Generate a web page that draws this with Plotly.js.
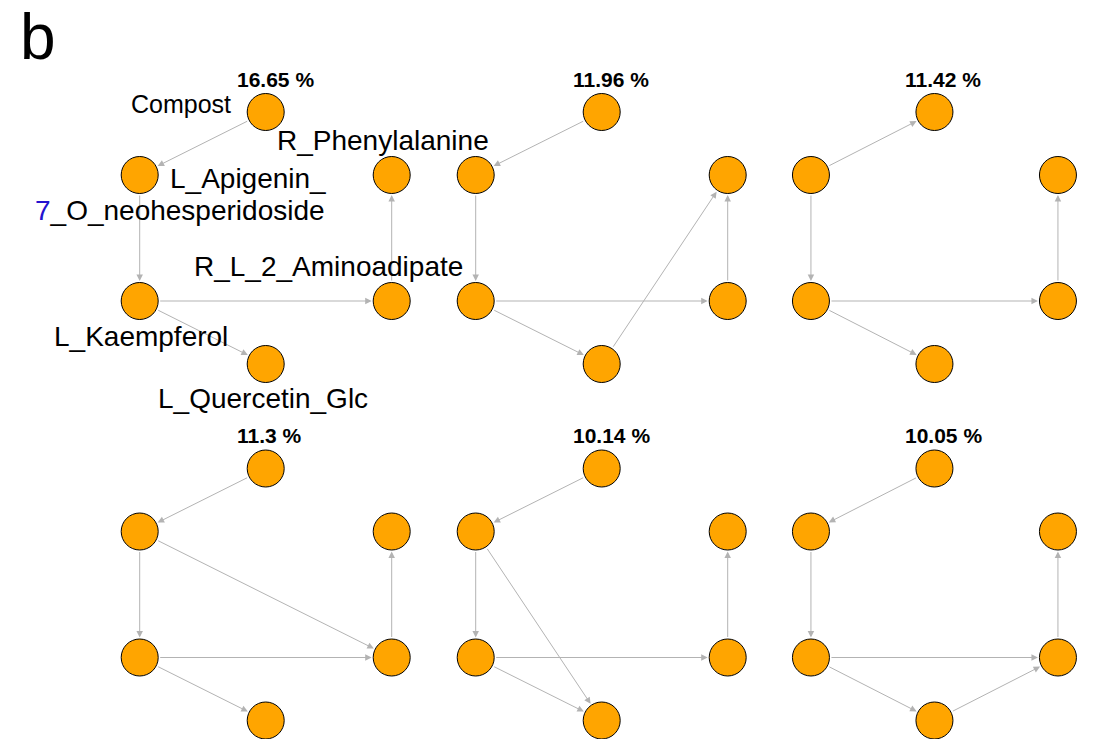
<!DOCTYPE html>
<html>
<head>
<meta charset="utf-8">
<script src="https://cdn.plot.ly/plotly-3.0.1.min.js"></script>
<style>html,body{margin:0;padding:0;background:#fff;}#chart{width:1095px;height:739px;}</style>
</head>
<body>
<div id="chart"></div>
<script>
// ---------------- DATA ----------------
const nodeNames = ['Compost', 'L_Apigenin_7_O_neohesperidoside', 'R_Phenylalanine',
                   'L_Kaempferol', 'R_L_2_Aminoadipate', 'L_Quercetin_Glc'];
// layout grid coordinates of each node (column, level) as used by the graph layout
const nodeCol   = [1, 0, 2, 0, 2, 1];
const nodeLevel = [0, 1, 1, 3, 3, 4];
// percentage of each network structure
const percentages = [16.65, 11.96, 11.42, 11.3, 10.14, 10.05];
// directed edges [from, to] by node index
const edges1 = [[0,1],[1,3],[3,4],[3,5],[4,2]];
const edges2 = [[0,1],[1,3],[3,4],[3,5],[4,2],[5,2]];
const edges3 = [[1,0],[1,3],[3,4],[3,5],[4,2]];
const edges4 = [[0,1],[1,3],[1,4],[3,4],[3,5],[4,2]];
const edges5 = [[0,1],[1,3],[1,5],[3,4],[3,5],[4,2]];
const edges6 = [[0,1],[1,3],[3,4],[3,5],[5,4],[4,2]];
const panelEdges = [edges1, edges2, edges3, edges4, edges5, edges6];

// ---------------- STYLE ----------------
const W = 1095, H = 739;
const FONT = 'Liberation Sans, Arial, Helvetica, sans-serif';
const unitX = 126, unitY = 63;          // px per layout unit
const col0X = 139.7, lev0Y = 112;       // px of first panel origin
const panelDX = 336, panelDY = 356.5;
const xr = [-0.3, 2.3], yr = [4.25, -0.75];
const edgeColor = '#b3b3b3';
const nodeFill = '#FFA500';
// label offsets (px) for first panel: [xanchor, xshift, yshift, fontsize]
const labelStyle = {
  0: ['right', -33, 8, 25],
  2: ['center', -9, 35, 28],
  3: ['center', 1, -35, 28],
  4: ['center', -63, 35, 28],
  5: ['center', -3, -34, 28]
};

const traces = [];
const annotations = [];
const layout = {
  width: W, height: H,
  margin: {l: 0, r: 0, t: 0, b: 0},
  paper_bgcolor: '#fff', plot_bgcolor: 'rgba(0,0,0,0)',
  showlegend: false,
  font: {family: FONT, color: '#000'},
  hovermode: false
};

for (let p = 0; p < 6; p++) {
  const r = Math.floor(p / 3), c = p % 3;
  const sfx = p === 0 ? '' : String(p + 1);
  const xa = 'x' + sfx, ya = 'y' + sfx;
  const ox = col0X + c * panelDX, oy = lev0Y + r * panelDY;
  const left = ox + xr[0] * unitX, right = ox + xr[1] * unitX;
  const top = oy + yr[1] * unitY, bottom = oy + yr[0] * unitY;
  layout['xaxis' + sfx] = {domain: [left / W, right / W], range: xr, visible: false, fixedrange: true};
  layout['yaxis' + sfx] = {domain: [Math.max(0, 1 - bottom / H), 1 - top / H], range: yr,
                           visible: false, fixedrange: true, anchor: xa};
  layout['xaxis' + sfx].anchor = ya;

  // edges
  panelEdges[p].forEach(([a, b]) => {
    annotations.push({
      xref: xa, yref: ya, axref: xa, ayref: ya,
      x: nodeCol[b], y: nodeLevel[b], ax: nodeCol[a], ay: nodeLevel[a],
      text: '', showarrow: true, arrowhead: 2, arrowsize: 1.3, arrowwidth: 1,
      arrowcolor: edgeColor, standoff: 20, startstandoff: 19
    });
  });

  // nodes
  traces.push({
    type: 'scatter', mode: 'markers', xaxis: xa, yaxis: ya,
    x: nodeCol, y: nodeLevel, text: nodeNames, hoverinfo: 'skip', cliponaxis: false,
    marker: {size: 37, color: nodeFill, line: {color: '#000', width: 1}}
  });

  // percentage label
  annotations.push({
    xref: xa, yref: ya, x: nodeCol[0], y: nodeLevel[0],
    text: '<b>' + percentages[p] + ' %</b>', showarrow: false,
    xanchor: 'left', yanchor: 'middle', xshift: -31, yshift: 33,
    font: {size: 21, family: FONT, color: '#000'}
  });

  // node labels on first panel only
  if (p === 0) {
    nodeNames.forEach((name, i) => {
      if (i === 1) {
        const k = name.indexOf('7');
        const l1 = name.slice(0, k);
        const l2 = '<span style="color:#2412cf">' + name.charAt(k) + '</span>' + name.slice(k + 1);
        annotations.push({xref: xa, yref: ya, x: nodeCol[i], y: nodeLevel[i], text: l1,
          showarrow: false, xanchor: 'right', yanchor: 'middle', xshift: 188, yshift: -3,
          font: {size: 28, family: FONT, color: '#000'}});
        annotations.push({xref: xa, yref: ya, x: nodeCol[i], y: nodeLevel[i], text: l2,
          showarrow: false, xanchor: 'right', yanchor: 'middle', xshift: 187, yshift: -35,
          font: {size: 28, family: FONT, color: '#000'}});
      } else {
        const s = labelStyle[i];
        annotations.push({xref: xa, yref: ya, x: nodeCol[i], y: nodeLevel[i], text: name,
          showarrow: false, xanchor: s[0], yanchor: 'middle', xshift: s[1], yshift: s[2],
          font: {size: s[3], family: FONT, color: '#000'}});
      }
    });
  }
}

// panel letter
annotations.push({xref: 'paper', yref: 'paper', x: 18 / W, y: 1, xanchor: 'left', yanchor: 'top',
  yshift: 1, text: 'b', showarrow: false, font: {size: 64, family: FONT, color: '#000'}});

layout.annotations = annotations;
Plotly.newPlot('chart', traces, layout, {displayModeBar: false, staticPlot: true});
</script>
</body>
</html>
